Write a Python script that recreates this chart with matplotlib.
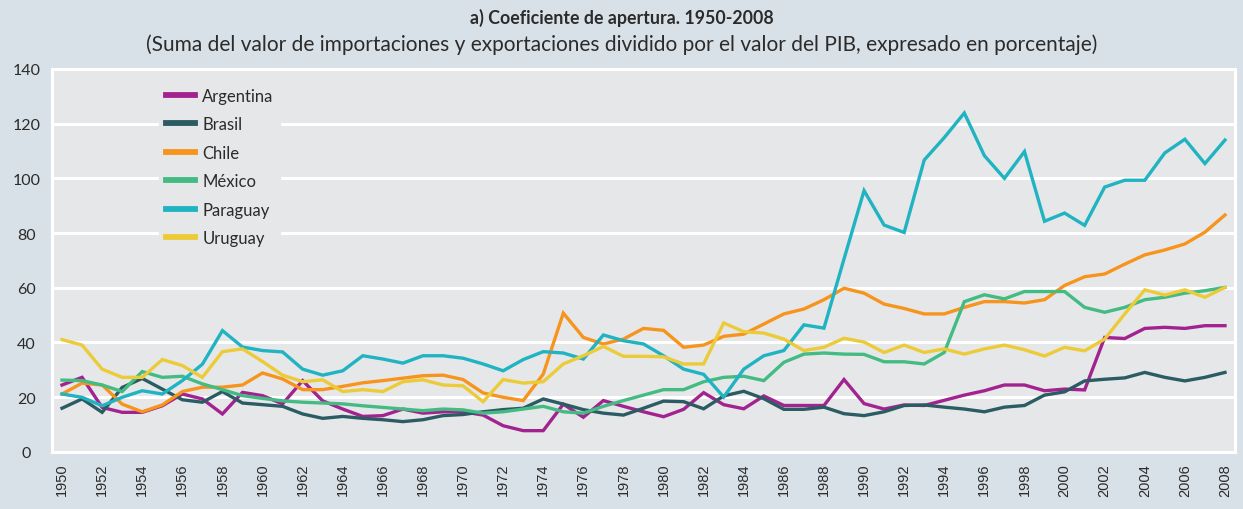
"""Coeficiente de apertura 1950-2008 - line chart recreation."""

import matplotlib

matplotlib.use("Agg")
import matplotlib.pyplot as plt

# ---------------------------------------------------------------------------
# Data
# ---------------------------------------------------------------------------
YEARS = list(range(1950, 2009))

ARGENTINA = [
    24.4, 27.2, 16.2, 14.4, 14.4, 16.8, 21.1, 19.3, 13.8, 21.7,
    20.5, 17.5, 26.0, 18.6, 15.6, 12.9, 13.2, 15.6, 14.1, 14.6,
    14.6, 13.4, 9.5, 7.7, 7.7, 17.4, 12.6, 18.7, 16.6, 14.6,
    12.8, 15.5, 21.6, 17.2, 15.7, 20.4, 16.9, 16.9, 16.9, 26.4,
    17.6, 15.6, 17.1, 16.9, 18.8, 20.7, 22.3, 24.4, 24.4, 22.3,
    22.9, 22.6, 41.8, 41.4, 45.1, 45.5, 45.1, 46.1, 46.1,
]
BRASIL = [
    15.9, 19.3, 14.4, 23.5, 26.8, 22.9, 19.0, 18.1, 22.0, 17.8,
    17.2, 16.6, 13.8, 12.2, 12.9, 12.2, 11.7, 11.0, 11.7, 13.2,
    13.6, 14.6, 15.4, 15.9, 19.3, 17.4, 15.4, 14.1, 13.4, 15.9,
    18.5, 18.3, 15.7, 20.4, 22.1, 19.4, 15.5, 15.5, 16.3, 13.9,
    13.2, 14.6, 16.9, 17.1, 16.3, 15.6, 14.6, 16.3, 16.9, 20.7,
    21.9, 25.9, 26.5, 27.0, 29.0, 27.2, 25.9, 27.2, 29.0,
]
CHILE = [
    21.1, 25.1, 24.4, 17.4, 14.6, 17.1, 22.0, 23.6, 23.6, 24.4,
    28.8, 26.6, 22.7, 22.7, 23.9, 25.2, 26.0, 26.9, 27.8, 28.0,
    26.4, 21.5, 19.9, 18.7, 28.4, 50.7, 41.8, 39.4, 41.2, 45.1,
    44.4, 38.2, 39.0, 42.2, 43.0, 46.7, 50.4, 52.2, 55.6, 59.8,
    58.0, 54.0, 52.4, 50.4, 50.4, 52.8, 54.9, 54.9, 54.4, 55.6,
    60.8, 64.0, 65.0, 68.6, 72.0, 73.8, 76.0, 80.3, 86.6,
]
MEXICO = [
    26.2, 26.0, 24.4, 22.0, 29.3, 27.2, 27.6, 24.8, 22.7, 20.5,
    19.5, 18.6, 18.1, 17.8, 17.5, 16.8, 16.2, 15.6, 15.0, 15.6,
    15.3, 14.1, 14.6, 15.6, 16.6, 14.6, 14.1, 16.6, 18.7, 20.7,
    22.7, 22.7, 25.6, 27.2, 27.6, 26.0, 32.7, 35.7, 36.1, 35.7,
    35.6, 32.9, 32.9, 32.1, 36.3, 54.9, 57.4, 55.9, 58.6, 58.6,
    58.6, 52.8, 51.0, 52.8, 55.6, 56.5, 58.0, 58.9, 60.1,
]
PARAGUAY = [
    21.1, 19.9, 16.8, 19.9, 22.3, 21.1, 26.0, 32.0, 44.3, 38.3,
    37.0, 36.5, 30.2, 28.0, 29.6, 35.1, 33.9, 32.4, 35.1, 35.1,
    34.2, 32.1, 29.6, 33.7, 36.6, 36.1, 33.9, 42.7, 40.6, 39.4,
    35.1, 30.2, 28.3, 20.0, 30.2, 35.1, 37.0, 46.4, 45.2, 70.5,
    95.5, 82.9, 80.2, 106.7, 114.9, 123.9, 108.3, 100.0, 109.8, 84.3,
    87.3, 82.8, 96.8, 99.3, 99.3, 109.3, 114.3, 105.4, 114.0,
]
URUGUAY = [
    41.0, 39.0, 30.2, 27.2, 27.2, 33.7, 31.5, 27.2, 36.6, 37.6,
    33.0, 28.0, 25.6, 26.3, 22.0, 22.7, 22.0, 25.6, 26.3, 24.4,
    24.1, 18.3, 26.4, 25.1, 25.6, 32.1, 35.1, 38.5, 34.9, 34.9,
    34.7, 32.1, 32.1, 47.1, 43.9, 43.4, 41.2, 37.0, 38.2, 41.5,
    40.1, 36.3, 39.0, 36.3, 37.6, 35.7, 37.6, 39.0, 37.3, 35.0,
    38.2, 36.9, 41.2, 50.4, 59.2, 57.3, 59.2, 56.5, 60.1,
]

SERIES = [
    ("Argentina", ARGENTINA, "#a2238f"),
    ("Brasil", BRASIL, "#2b5c63"),
    ("Chile", CHILE, "#f7941e"),
    ("México", MEXICO, "#43bb83"),
    ("Paraguay", PARAGUAY, "#20b3c1"),
    ("Uruguay", URUGUAY, "#eccb38"),
]

Y_TICKS = list(range(0, 141, 20))
X_TICKS = list(range(1950, 2009, 2))

TITLE = "a) Coeficiente de apertura. 1950-2008"
SUBTITLE = ("(Suma del valor de importaciones y exportaciones dividido por el "
            "valor del PIB, expresado en porcentaje)")

# ---------------------------------------------------------------------------
# Style
# ---------------------------------------------------------------------------
W, H = 1243, 510
FIG_BG = "#d9e1e8"
AX_BG = "#e6e7e9"
TEXT = "#2b2b2b"
FONT = ["Lato", "DejaVu Sans"]


def main() -> None:
    fig = plt.figure(figsize=(W / 100, H / 100), dpi=100, facecolor=FIG_BG)
    left, right, top, bottom = 52, 1235, 70, 452.7
    ax = fig.add_axes([left / W, 1 - bottom / H, (right - left) / W,
                       (bottom - top) / H])
    ax.set_facecolor(AX_BG)

    for name, values, color in SERIES:
        ax.plot(YEARS, values, color=color, lw=2.4, label=name,
                solid_joinstyle="miter", zorder=3)

    ax.set_xlim(1949.5, 2008.5)
    ax.set_ylim(0, 140)

    ax.set_yticks(Y_TICKS)
    ax.set_yticklabels([str(v) for v in Y_TICKS], family=FONT, fontsize=11.5,
                       color=TEXT, ha="center")
    ax.set_xticks(X_TICKS)
    ax.set_xticklabels([str(v) for v in X_TICKS], rotation=90,
                       family="Liberation Sans", fontsize=10.5, color=TEXT)
    ax.tick_params(axis="both", length=0)
    ax.tick_params(axis="y", pad=18.5)
    ax.tick_params(axis="x", pad=8)

    ax.grid(axis="y", color="white", lw=2.2, zorder=1)
    ax.grid(axis="x", visible=False)
    for spine in ax.spines.values():
        spine.set_color("white")
        spine.set_linewidth(2.2)

    fig.text(0.5, 1 - 18 / H, TITLE, ha="center", va="center", family=FONT,
             fontsize=12.8, fontweight="bold", color=TEXT)
    fig.text(0.5, 1 - 45 / H, SUBTITLE, ha="center", va="center",
             family=FONT, fontsize=15, color=TEXT)

    leg = fig.legend(loc="upper left", bbox_to_anchor=(159 / W, 1 - 82 / H),
                     bbox_transform=fig.transFigure, frameon=True,
                     fancybox=False, borderaxespad=0, borderpad=0.4,
                     handlelength=1.75, handletextpad=0.45, labelspacing=0.75,
                     prop={"family": FONT, "size": 12})
    leg.get_frame().set_facecolor(AX_BG)
    leg.get_frame().set_edgecolor(AX_BG)
    leg.get_frame().set_alpha(1)
    for text in leg.get_texts():
        text.set_color(TEXT)
    for line in leg.get_lines():
        line.set_linewidth(4.2)

    fig.savefig("out.png", dpi=100, facecolor=FIG_BG)
    plt.close(fig)


if __name__ == "__main__":
    main()
